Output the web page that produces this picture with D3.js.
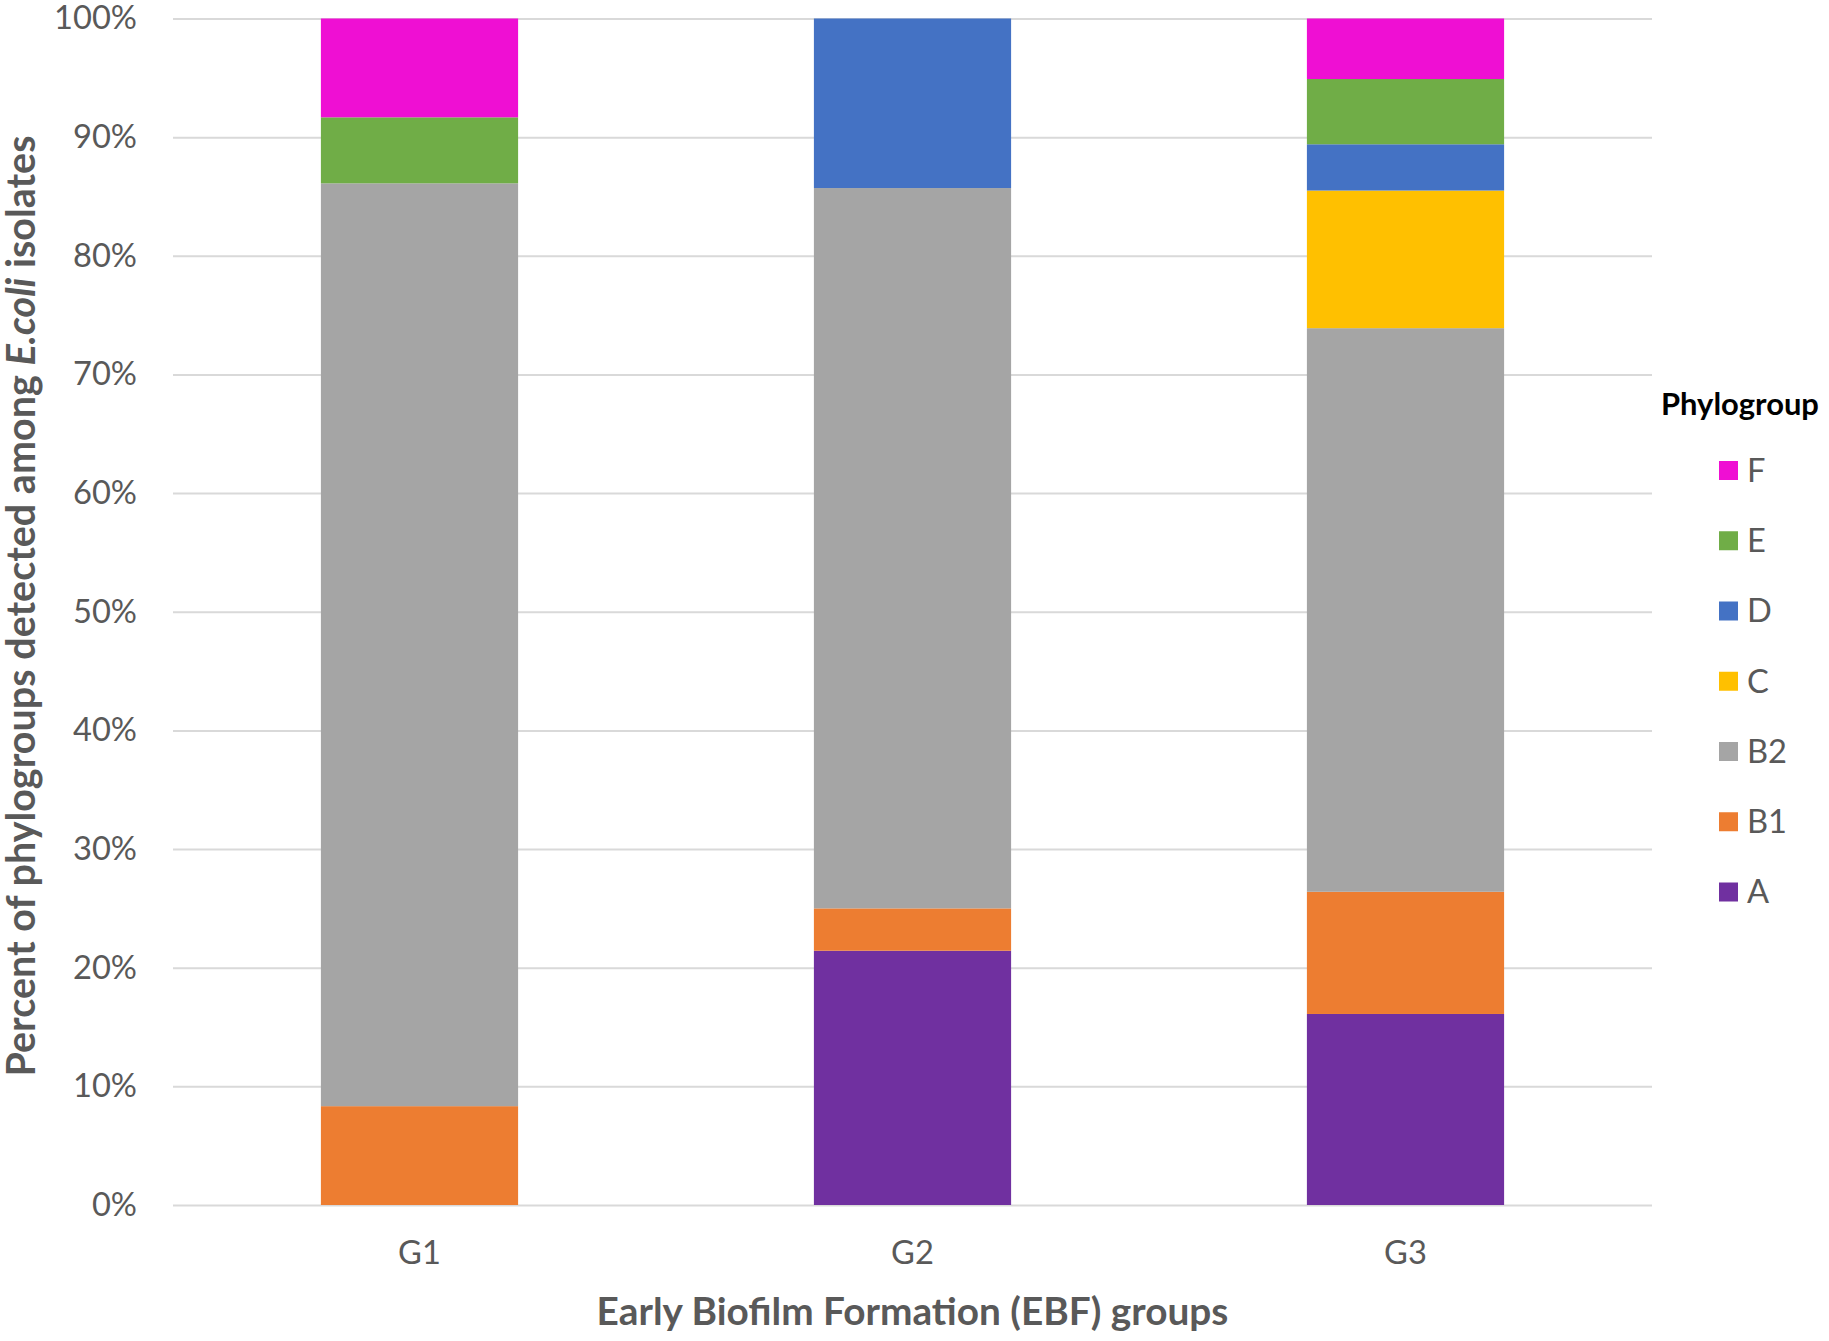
<!DOCTYPE html>
<html>
<head>
<meta charset="utf-8">
<script src="https://cdn.jsdelivr.net/npm/d3@7"></script>
<style>
  html, body { margin: 0; padding: 0; background: #fff; }
  svg { display: block; }
  text { font-family: Lato, "Open Sans", sans-serif; }
</style>
</head>
<body>
<svg id="chart" width="1829" height="1341"></svg>
<script>
// ---- data ----
const categories = ["G1", "G2", "G3"];
const phylogroups = ["A", "B1", "B2", "C", "D", "E", "F"];
const colors = ["#7030A0", "#ED7D31", "#A5A5A5", "#FFC000", "#4472C4", "#70AD47", "#EF0FD3"];
const A  = [0,     21.43, 16.1];
const B1 = [8.33,  3.57,  10.3];
const B2 = [77.78, 60.71, 47.5];
const C  = [0,     0,     11.6];
const D  = [0,     14.29, 3.9];
const E  = [5.56,  0,     5.5];
const F  = [8.33,  0,     5.1];
const yTicks = [0, 10, 20, 30, 40, 50, 60, 70, 80, 90, 100];
const xTitle = "Early Biofilm Formation (EBF) groups";
const yTitleParts = ["Percent of phylogroups detected among ", "E.coli", " isolates"];
const legendTitle = "Phylogroup";

const seriesValues = { A, B1, B2, C, D, E, F };
const rows = categories.map((c, i) => {
  const r = { cat: c };
  phylogroups.forEach(p => r[p] = seriesValues[p][i]);
  return r;
});

// ---- layout ----
const svg = d3.select("#chart");
const plotLeft = 173, plotRight = 1652, plotTop = 18.5, plotBottom = 1205;
const textGray = "#595959";

const x = d3.scaleBand().domain(categories).range([plotLeft, plotRight]).paddingInner(0.6).paddingOuter(0.3);
const y = d3.scaleLinear().domain([0, 100]).range([plotBottom, plotTop]);
const color = d3.scaleOrdinal().domain(phylogroups).range(colors);

function fitSize(str, weight, target, style) {
  const t = svg.append("text").attr("font-size", 100).attr("font-weight", weight)
    .attr("font-style", style || "normal").text(str);
  const w = t.node().getComputedTextLength();
  t.remove();
  return 100 * target / w;
}
const labelSize = fitSize("100%", "normal", 83);
const titleSize = fitSize(xTitle, "bold", 632);
const legTitleSize = fitSize(legendTitle, "bold", 158);

// gridlines
svg.append("g")
  .attr("transform", `translate(${plotLeft},0)`)
  .call(d3.axisLeft(y).tickValues(yTicks).tickSize(-(plotRight - plotLeft)).tickFormat(""))
  .call(g => g.select(".domain").remove())
  .call(g => g.selectAll("line").attr("stroke", "#D9D9D9").attr("stroke-width", 2));

// bars
const stacked = d3.stack().keys(phylogroups)(rows);
svg.append("g").selectAll("g").data(stacked).join("g")
  .attr("fill", d => color(d.key))
  .selectAll("rect").data(d => d).join("rect")
  .attr("x", d => x(d.data.cat))
  .attr("width", x.bandwidth())
  .attr("y", d => y(d[1]))
  .attr("height", d => y(d[0]) - y(d[1]));

// y axis labels
svg.append("g")
  .attr("transform", `translate(${plotLeft},0)`)
  .call(d3.axisLeft(y).tickValues(yTicks).tickSize(0).tickPadding(36).tickFormat(d => d + "%"))
  .call(g => g.select(".domain").remove())
  .call(g => g.selectAll("text").attr("font-size", labelSize).attr("fill", textGray)
    .attr("font-family", "Lato, 'Open Sans', sans-serif"));

// x axis labels
svg.append("g")
  .attr("transform", `translate(0,${plotBottom})`)
  .call(d3.axisBottom(x).tickSize(0).tickPadding(36))
  .call(g => g.select(".domain").remove())
  .call(g => g.selectAll("text").attr("font-size", labelSize).attr("fill", textGray)
    .attr("font-family", "Lato, 'Open Sans', sans-serif"));

// x title
svg.append("text")
  .attr("x", (plotLeft + plotRight) / 2).attr("y", 1325)
  .attr("text-anchor", "middle").attr("font-weight", "bold")
  .attr("font-size", titleSize).attr("fill", textGray)
  .text(xTitle);

// y title
const yt = svg.append("text")
  .attr("transform", `translate(35,606) rotate(-90)`)
  .attr("text-anchor", "middle").attr("font-weight", "bold")
  .attr("font-size", titleSize).attr("fill", textGray);
yt.append("tspan").text(yTitleParts[0]);
yt.append("tspan").attr("font-style", "italic").text(yTitleParts[1]);
yt.append("tspan").text(yTitleParts[2]);
const ytLen = yt.node().getComputedTextLength();
yt.attr("font-size", titleSize * 941 / ytLen);

// legend
svg.append("text")
  .attr("x", 1661).attr("y", 415)
  .attr("font-weight", "bold").attr("font-size", legTitleSize).attr("fill", "#000")
  .text(legendTitle);

const legendOrder = phylogroups.slice().reverse();
const ly = d3.scalePoint().domain(legendOrder).range([470.5, 892]);
const leg = svg.append("g").selectAll("g").data(legendOrder).join("g")
  .attr("transform", d => `translate(1719,${ly(d)})`);
leg.append("rect").attr("x", 0).attr("y", -9.5).attr("width", 19).attr("height", 19)
  .attr("fill", d => color(d));
leg.append("text").attr("x", 28).attr("y", 0).attr("dy", "0.35em")
  .attr("font-size", labelSize).attr("fill", textGray).text(d => d);
</script>
</body>
</html>
